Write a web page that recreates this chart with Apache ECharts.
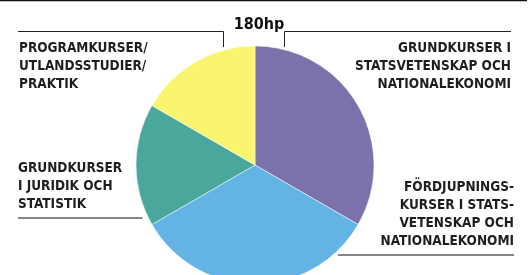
<!DOCTYPE html>
<html>
<head>
<meta charset="utf-8">
<style>
  html, body { margin: 0; padding: 0; background: #fff; }
  #chart { width: 530px; height: 275px; }
</style>
<script src="https://cdn.jsdelivr.net/npm/echarts@6/dist/echarts.min.js"></script>
</head>
<body>
<div id="chart"></div>
<script>
// data
var total = '180hp';
var categories = [
  'GRUNDKURSER I\nSTATSVETENSKAP OCH\nNATIONALEKONOMI',
  'FÖRDJUPNINGS-\nKURSER I STATS-\nVETENSKAP OCH\nNATIONALEKONOMI',
  'GRUNDKURSER\nI JURIDIK OCH\nSTATISTIK',
  'PROGRAMKURSER/\nUTLANDSSTUDIER/\nPRAKTIK'
];
var values = [60, 60, 30, 30];

var colors = ['#7c72ab', '#63b3e4', '#49a89b', '#f9f56f'];
var font = '"DejaVu Sans Condensed", "Liberation Sans Narrow", sans-serif';
var textStyle = { fill: '#1e1e1e', font: 'bold 13.5px ' + font, lineHeight: 18 };

var chart = echarts.init(document.getElementById('chart'));

var option = {
  animation: false,
  title: {
    text: total,
    left: 254,
    top: 12,
    textAlign: 'center',
    textStyle: { color: '#111', fontSize: 16, fontWeight: 'bold', fontFamily: '"Liberation Sans Narrow", "DejaVu Sans Condensed", sans-serif' }
  },
  series: [{
    type: 'pie',
    center: [255, 165],
    radius: 119,
    startAngle: 90,
    clockwise: true,
    label: { show: false },
    labelLine: { show: false },
    itemStyle: { borderColor: '#fff', borderWidth: 0.5 },
    data: values.map(function (v, i) {
      return { value: v, name: categories[i], itemStyle: { color: colors[i] } };
    })
  }],
  graphic: [
    // top border
    { type: 'line', shape: { x1: 0, y1: 0.5, x2: 527, y2: 0.5 }, style: { stroke: '#111', lineWidth: 1.5 } },
    // leader lines
    { type: 'polyline', shape: { points: [[18, 31.5], [223.5, 31.5], [223.5, 47]] }, style: { stroke: '#222', lineWidth: 1, fill: null } },
    { type: 'polyline', shape: { points: [[511, 31.5], [284.5, 31.5], [284.5, 47]] }, style: { stroke: '#222', lineWidth: 1, fill: null } },
    { type: 'line', shape: { x1: 18, y1: 218, x2: 142.5, y2: 218 }, style: { stroke: '#111', lineWidth: 1.2 } },
    { type: 'line', shape: { x1: 338, y1: 255, x2: 514, y2: 255 }, style: { stroke: '#111', lineWidth: 1.2 } },
    // labels
    { type: 'text', x: 511, y: 39, style: Object.assign({ text: categories[0], textAlign: 'right' }, textStyle) },
    { type: 'text', x: 514, y: 178, style: Object.assign({ text: categories[1], textAlign: 'right' }, textStyle) },
    { type: 'text', x: 18, y: 159, style: Object.assign({ text: categories[2], textAlign: 'left' }, textStyle) },
    { type: 'text', x: 19, y: 39, style: Object.assign({ text: categories[3], textAlign: 'left' }, textStyle) }
  ]
};

chart.setOption(option);
</script>
</body>
</html>
